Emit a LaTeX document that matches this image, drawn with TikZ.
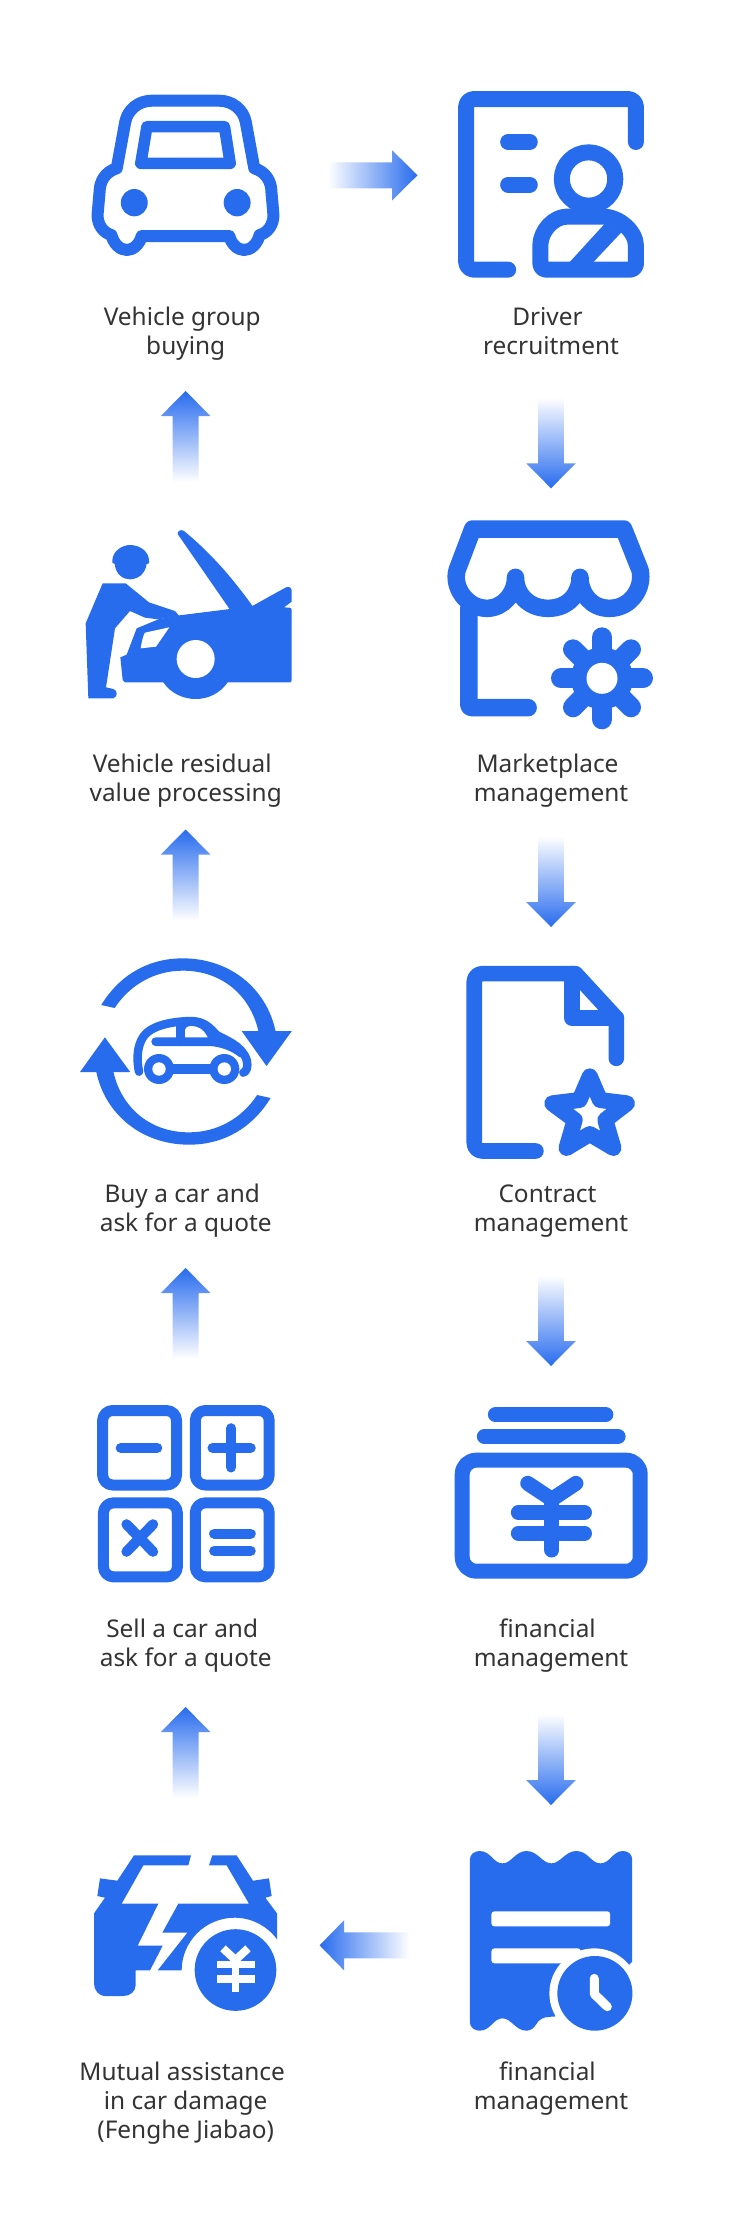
\documentclass[tikz,border=0pt]{standalone}
\usepackage{fontspec}
\setmainfont{Noto Sans}
\definecolor{ablue}{HTML}{286CEE}
\definecolor{atext}{HTML}{333333}
\colorlet{amid}{ablue!45!white}
\newcommand{\tsp}{\hbox to 7pt{}}
% label: name, centre x, first baseline y, text
\newcommand{\mylab}[4]{\node[lab] (#1) at (#2,#3-21) {\rule{0pt}{21pt}#4};}
% gradient block arrows
\newcommand{\arrowup}[3]{% x, tip y, name
  \coordinate (#3) at (#1,#2);
  \shade[bottom color=white,middle color=amid,top color=ablue] (#1,#2) -- ++(24.8,25) -- ++(-11.9,0) -- ++(0,66) -- ++(-25.8,0) -- ++(0,-66) -- ++(-11.9,0) -- cycle;}
\newcommand{\arrowdown}[3]{%
  \coordinate (#3) at (#1,#2);
  \shade[top color=white,middle color=amid,bottom color=ablue] (#1,#2) -- ++(24.8,-25) -- ++(-11.9,0) -- ++(0,-66) -- ++(-25.8,0) -- ++(0,66) -- ++(-11.9,0) -- cycle;}
\tikzset{
  lab/.style={anchor=north,align=center,inner sep=0pt,text=atext,font=\fontsize{24.4}{29}\selectfont},
  ic/.style={draw=ablue,line join=round,line cap=round},
  icf/.style={fill=ablue},
  wide/.style={x=0.40816pt,y=-0.33333pt},
  even/.style={x=0.33333pt,y=-0.33333pt},
}
\begin{document}
\begin{tikzpicture}[x=1pt,y=-1pt]
\fill[white] (0,0) rectangle (731,2235);
\useasboundingbox (0,0) rectangle (731,2235);

% ---------- first row
\begin{scope}[shift={(50.2,60)},wide]
 % car
 \draw[ic,line width=12pt] (331,122) -- (250,122) .. controls (215,122) and (190,150) .. (184,185) -- (163,325) .. controls (135,335) and (121,365) .. (121,395) -- (116,465) .. controls (116,495) and (130,518) .. (150,525) .. controls (155,550) and (170,570) .. (188,570) .. controls (205,570) and (220,550) .. (224,528) -- (439,528) .. controls (443,550) and (458,570) .. (475,570) .. controls (493,570) and (508,550) .. (513,525) .. controls (533,518) and (547,495) .. (547,465) -- (542,395) .. controls (542,365) and (528,335) .. (500,325) -- (479,185) .. controls (473,150) and (448,122) .. (413,122) -- cycle;
 \draw[ic,line width=11.5pt] (237,200) -- (427,200) -- (441,310) -- (222,310) -- cycle;
 \fill[icf] (206,428) circle [x radius=33,y radius=41];
 \fill[icf] (458,428) circle [x radius=33,y radius=41];
 % driver
 \draw[ic,line width=16pt,rounded corners=8pt] (1435,246) -- (1435,117) -- (1019,117) -- (1019,629) -- (1122,629);
 \draw[ic,line width=16pt] (1122,246) -- (1175,246);
 \draw[ic,line width=16pt] (1122,374) -- (1175,374);
 \draw[ic,line width=16pt] (1319,357) circle [x radius=65.5,y radius=80];
 \draw[ic,line width=16pt,rounded corners=6pt] (1201,629) -- (1201,575) .. controls (1201,510) and (1235,470) .. (1280,470) -- (1340,470) .. controls (1395,470) and (1435,515) .. (1435,575) -- (1435,629) -- cycle;
 \fill[icf] (1361,488) -- (1401,515) -- (1328,610) -- (1270,610) -- cycle;
\end{scope}
\mylab{l1}{185.7}{325}{Vehicle group\tsp\\buying}
\mylab{l2}{551}{325}{Driver\tsp\\recruitment}

% ---------- second row
\begin{scope}[shift={(80,530)},even]
 \fill[icf] (97,92) .. controls (97,65) and (125,45) .. (150,45) .. controls (180,45) and (207,65) .. (207,92) -- (207,100) -- (200,102) .. controls (195,135) and (170,148) .. (150,148) .. controls (130,148) and (108,135) .. (104,102) -- (97,98) -- cycle;
 \fill[icf] (68,160) -- (137,160) -- (207,217) -- (285,243) -- (298,258) -- (235,268) -- (195,263) -- (150,243) -- (105,295) -- (78,472) -- (100,477) .. controls (112,480) and (115,500) .. (100,505) -- (25,505) -- (17,280) -- cycle;
 \fill[icf] (235,268) -- (298,256) -- (450,237) -- (517,228) -- (618,172) .. controls (630,168) and (635,175) .. (635,180) -- (635,215) -- (612,232) -- (628,233) .. controls (633,233) and (635,236) .. (635,240) -- (635,450) .. controls (635,455) and (633,457) .. (630,457) -- (443,457) .. controls (420,490) and (385,507) .. (347,507) .. controls (310,507) and (272,490) .. (250,457) -- (135,457) -- (128,450) -- (121,382) -- (140,374) -- (170,295) -- cycle;
 \fill[icf] (293,12) .. controls (292,3) and (303,-3) .. (312,3) .. controls (400,75) and (465,155) .. (519,230) -- (450,239) -- cycle;
 \fill[white] (195,308) -- (268,292) -- (228,350) -- (182,355) .. controls (185,335) and (190,315) .. (195,308);
 \fill[white] (347,387) circle [radius=57];
\end{scope}
\begin{scope}[shift={(50.2,480)},wide]
 \draw[ic,line width=17.5pt] (1035,147) -- (1405,147) -- (1445,270) .. controls (1455,320) and (1425,385) .. (1370,385) .. controls (1325,385) and (1298,340) .. (1298,292) .. controls (1298,340) and (1270,385) .. (1220,385) .. controls (1170,385) and (1140,340) .. (1140,292) .. controls (1140,340) and (1110,385) .. (1070,385) .. controls (1020,385) and (985,320) .. (997,270) -- cycle;
 \draw[ic,line width=17.5pt,rounded corners=3pt] (1025.5,385) -- (1025.5,683) -- (1171,683);
\end{scope}
\begin{scope}[shift={(602,678.3)}]
 \fill[icf] (0,0) circle [radius=31];
 \foreach \a in {0,45,...,315} \draw[ic,line width=20pt] (0,0) -- (\a:41);
 \fill[white] (0,0) circle [radius=15.5];
\end{scope}
\mylab{l3}{185.7}{772}{Vehicle residual\tsp\\value processing}
\mylab{l4}{551}{772}{Marketplace\tsp\\management}

% ---------- third row
\begin{scope}[shift={(50.2,930)},wide]
 \fill[icf] (125,225) .. controls (170,135) and (240,85) .. (325,85) .. controls (440,85) and (530,175) .. (552,303) -- (510,303) .. controls (490,195) and (420,122) .. (325,122) .. controls (255,122) and (195,165) .. (158,234) -- cycle;
 \fill[icf] (540,504) .. controls (495,594) and (425,644) .. (340,644) .. controls (225,644) and (135,554) .. (113,426) -- (155,426) .. controls (175,534) and (245,607) .. (340,607) .. controls (410,607) and (470,564) .. (507,495) -- cycle;
 \fill[icf] (469,303) -- (592,303) -- (530,408) -- cycle;
 \fill[icf] (73,426) -- (196,426) -- (134,322) -- cycle;
 % contract
 \draw[ic,line width=15.6pt] (1190,663) [rounded corners=8pt] -- (1039,663) -- (1039,131) [sharp corners] -- (1287,131) -- (1387,264) -- (1387,385);
 \draw[ic,line width=15.6pt] (1278,131) -- (1278,264) -- (1387,264);
 \draw[ic,line width=16pt] (1322,439) -- (1347,510) -- (1413,520) -- (1360,570) -- (1380,654) -- (1322,612) -- (1265,654) -- (1285,570) -- (1230,520) -- (1297,510) -- cycle;
\end{scope}
\begin{scope}[shift={(125,1010)},even]
 \draw[ic,line width=8.5pt] (42,185) .. controls (35,150) and (35,110) .. (55,80) .. controls (75,50) and (130,35) .. (195,33) .. controls (240,33) and (255,55) .. (275,75) .. controls (300,90) and (350,105) .. (365,150) .. controls (370,170) and (365,185) .. (355,188);
 \draw[ic,line width=8.7pt] (92,95) -- (255,95) .. controls (290,97) and (325,110) .. (350,130);
 \fill[icf] (165,33) -- (195,33) .. controls (240,33) and (255,55) .. (275,75) -- (255,95) -- (165,95) -- cycle;
 \fill[white] (178,82) -- (248,82) .. controls (235,55) and (215,47) .. (195,48) .. controls (180,50) and (178,60) .. (178,82);
 \draw[ic,line width=9pt] (165,40) -- (165,95);
 \draw[ic,line width=9.7pt] (102,177) -- (298,177);
 \fill[icf] (102,177) circle [radius=45];
 \fill[icf] (298,177) circle [radius=45];
 \fill[white] (102,177) circle [radius=20];
 \fill[white] (298,177) circle [radius=20];
\end{scope}
\mylab{l5}{185.7}{1202.7}{Buy a car and\tsp\\ask for a quote}
\mylab{l6}{551}{1202.7}{Contract\tsp\\management}

% ---------- fourth row
\begin{scope}[shift={(50.2,1380)},wide]
 \draw[ic,line width=11pt,rounded corners=10pt] (128.5,91.5) rectangle (309.5,315);
 \draw[ic,line width=11pt,rounded corners=10pt] (355.5,91.5) rectangle (536.5,315);
 \draw[ic,line width=11pt,rounded corners=10pt] (130.5,368.5) rectangle (311.5,590.5);
 \draw[ic,line width=11pt,rounded corners=10pt] (355.5,368.5) rectangle (536.5,590.5);
 \draw[ic,line width=10.3pt] (173,203.5) -- (262,203.5);
 \draw[ic,line width=10.3pt] (398,203.5) -- (491,203.5);
 \draw[ic,line width=10.3pt] (443,145) -- (443,262);
 \draw[ic,line width=10.3pt] (187,433) -- (252,515);
 \draw[ic,line width=10.3pt] (252,433) -- (187,515);
 \draw[ic,line width=10.3pt] (402,461) -- (491,461);
 \draw[ic,line width=10.3pt] (402,512.5) -- (491,512.5);
 % money jar
 \draw[ic,line width=15.3pt] (1091,104) -- (1361,104);
 \draw[ic,line width=15.3pt] (1064,169.5) -- (1391,169.5);
 \draw[ic,line width=15pt,rounded corners=14pt] (1009.5,240.5) rectangle (1445.5,573.5);
 \draw[ic,line width=15pt] (1170,310) -- (1229,358) -- (1288,310);
 \draw[ic,line width=15pt] (1147,397.5) -- (1309,397.5);
 \draw[ic,line width=15pt] (1147,459.5) -- (1309,459.5);
 \draw[ic,line width=15pt] (1229,358) -- (1229,510);
\end{scope}
\mylab{l7}{185.7}{1637.7}{Sell a car and\tsp\\ask for a quote}
\mylab{l8}{551}{1637.7}{financial\tsp\\management}

% ---------- fifth row
\begin{scope}[shift={(85,1850)},even]
 \fill[icf] (147,16) -- (318,16) -- (310,46) -- (175,46) -- (110,161) -- (220,161) -- (158,287) -- (233,287) -- (195,361) -- (152,361) -- (152,405) .. controls (152,425) and (135,438) .. (115,438) -- (62,438) .. controls (40,438) and (27,420) .. (27,400) -- (27,190) -- (60,143) -- (37,138) -- (45,85) -- (97,92) -- cycle;
 \fill[icf] (382,16) -- (455,16) -- (504,92) -- (552,85) -- (560,138) -- (541,143) -- (576,190) -- (576,268) .. controls (545,225) and (495,203) .. (450,203) .. controls (360,203) and (290,275) .. (290,361) -- (218,361) -- (307,248) -- (232,248) -- (280,161) -- (492,161) -- (425,46) -- (372,46) -- cycle;
 \fill[icf] (451.5,360) circle [radius=122.5];
 \fill[white] (395,332) rectangle (510,353);
 \fill[white] (395,376) rectangle (510,398);
 \fill[white] (440,330) rectangle (463,425);
 \draw[white,line width=8pt] (414,295) -- (451.5,330) -- (489,295);
\end{scope}
\begin{scope}[shift={(50.2,1830)},wide]
 \fill[icf] (1028,90) .. controls (1028,72) and (1040,63) .. (1052,63) .. controls (1080,63) and (1085,100) .. (1108,100) .. controls (1130,100) and (1140,63) .. (1167,63) .. controls (1195,63) and (1205,100) .. (1228,100) .. controls (1250,100) and (1262,63) .. (1289,63) .. controls (1318,63) and (1325,100) .. (1348,100) .. controls (1372,100) and (1378,63) .. (1403,63) .. controls (1416,63) and (1426,72) .. (1426,90) -- (1426,395) -- (1418,405) -- (1333,490) -- (1235,560) .. controls (1215,560) and (1205,562) .. (1195,575) .. controls (1185,595) and (1178,602) .. (1167,602) .. controls (1140,602) and (1130,565) .. (1108,565) .. controls (1085,565) and (1080,602) .. (1052,602) .. controls (1040,602) and (1028,593) .. (1028,575) -- cycle;
 \fill[white,rounded corners=3pt] (1081,244) rectangle (1372,289);
 \fill[white,rounded corners=3pt] (1081,355) rectangle (1300,400);
 \fill[white] (1333,490) circle [x radius=110,y radius=135];
 \fill[icf] (1334.5,490) circle [x radius=92,y radius=112];
 \draw[white,line width=9pt,line join=round,line cap=round] (1333,445) -- (1333,492) -- (1365,530);
\end{scope}
\mylab{l9}{185.7}{2080}{Mutual assistance\tsp\\in car damage\\(Fenghe Jiabao)}
\mylab{l10}{551}{2080}{financial\tsp\\management}

% ---------- gradient arrows
\shade[left color=white,middle color=amid,right color=ablue] (327.7,162.3) -- (392.2,162.3) -- (392.2,150.3) -- (417.5,175.3) -- (392.2,200.3) -- (392.2,188.3) -- (327.7,188.3) -- cycle;
\shade[right color=white,middle color=amid,left color=ablue] (319.6,1945.3) -- (344,1920.3) -- (344,1932.3) -- (409.4,1932.3) -- (409.4,1958.3) -- (344,1958.3) -- (344,1970.3) -- cycle;
\arrowup{185.6}{391}{u1}
\arrowup{185.6}{829.5}{u2}
\arrowup{185.6}{1268}{u3}
\arrowup{185.6}{1707}{u4}
\arrowdown{551}{488.3}{d1}
\arrowdown{551}{927}{d2}
\arrowdown{551}{1366}{d3}
\arrowdown{551}{1805}{d4}
\end{tikzpicture}
\end{document}
